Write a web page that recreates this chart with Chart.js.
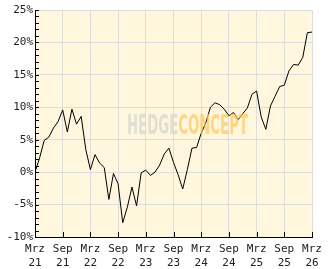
<!DOCTYPE html>
<html>
<head>
<meta charset="utf-8">
<script src="https://cdn.jsdelivr.net/npm/chart.js@4"></script>
<style>
  html, body { margin: 0; padding: 0; background: #fff; }
</style>
</head>
<body>
<canvas id="chart" width="332" height="269"></canvas>
<script>
// x tick labels, one every 6 months (Mrz 21 .. Mrz 26)
const tickLabels = [
  ['Mrz', '21'], ['Sep', '21'], ['Mrz', '22'], ['Sep', '22'], ['Mrz', '23'], ['Sep', '23'],
  ['Mrz', '24'], ['Sep', '24'], ['Mrz', '25'], ['Sep', '25'], ['Mrz', '26']
];

// monthly performance in % (month 0 = Mrz 21)
const values = [
  0, 2.2, 4.9, 5.4, 6.8, 7.8, 9.6, 6.2, 9.7, 7.4, 8.6, 3.5,
  0.4, 2.7, 1.4, 0.7, -4.2, -0.2, -1.8, -7.8, -5.4, -2.3, -5.2, -0.1,
  0.3, -0.5, 0, 1.1, 2.8, 3.7, 1.5, -0.4, -2.6, 0.4, 3.7, 3.8,
  6.0, 7.6, 10.0, 10.7, 10.4, 9.7, 8.7, 9.2, 8.1, 9.0, 9.9, 12.0,
  12.5, 8.5, 6.6, 10.2, 11.7, 13.2, 13.4, 15.6, 16.6, 16.5, 17.7, 21.5,
  21.6
];

const font = { family: '"DejaVu Sans Mono", monospace', size: 11, lineHeight: 1.2 };

// cream plot background
const bgPlugin = {
  id: 'bg',
  beforeDraw(chart) {
    const { ctx, chartArea: a } = chart;
    ctx.save();
    ctx.fillStyle = '#fff6de';
    ctx.fillRect(a.left, a.top, a.right - a.left, a.bottom - a.top);
    ctx.restore();
  }
};

// watermark over the line
const watermark = {
  id: 'watermark',
  afterDatasetsDraw(chart) {
    const { ctx } = chart;
    ctx.save();
    ctx.font = 'bold 27px "DejaVu Sans Condensed", "DejaVu Sans"';
    ctx.textBaseline = 'alphabetic';
    const w1 = ctx.measureText('HEDGE').width;
    const w2 = ctx.measureText('CONCEPT').width;
    const sx = 121 / (w1 + w2);
    ctx.translate(127, 134);
    ctx.scale(sx, 1);
    ctx.fillStyle = 'rgba(215, 215, 210, 0.75)';
    ctx.fillText('HEDGE', 0, 0);
    ctx.fillStyle = 'rgba(255, 200, 90, 0.7)';
    ctx.fillText('CONCEPT', w1, 0);
    ctx.restore();
  }
};

// short tick marks drawn inside the plot
const innerTicks = {
  id: 'innerTicks',
  afterDraw(chart) {
    const { ctx, chartArea: a, scales } = chart;
    ctx.save();
    ctx.strokeStyle = '#000';
    ctx.lineWidth = 1;
    ctx.beginPath();
    scales.y.ticks.forEach(t => {
      const y = Math.round(scales.y.getPixelForValue(t.value)) + 0.5;
      ctx.moveTo(a.left, y);
      ctx.lineTo(a.left + 4, y);
    });
    scales.x.ticks.forEach(t => {
      const x = Math.round(scales.x.getPixelForValue(t.value)) + 0.5;
      ctx.moveTo(x, a.bottom);
      ctx.lineTo(x, a.bottom - 5);
    });
    ctx.stroke();
    ctx.restore();
  }
};

new Chart(document.getElementById('chart'), {
  type: 'line',
  data: {
    datasets: [{
      data: values.map((v, i) => ({ x: i, y: v })),
      borderColor: '#000',
      borderWidth: 1,
      pointRadius: 0,
      tension: 0,
      fill: false
    }]
  },
  options: {
    responsive: false,
    animation: false,
    layout: { padding: { top: 10, right: 20, left: 0, bottom: 0 } },
    plugins: { legend: { display: false }, tooltip: { enabled: false } },
    scales: {
      x: {
        type: 'linear',
        min: 0,
        max: 60,
        afterFit(s) { s.height = 32; },
        border: { color: '#000', width: 1 },
        grid: { color: '#ddd', drawTicks: false },
        ticks: {
          stepSize: 6,
          autoSkip: false,
          maxRotation: 0,
          padding: 6,
          color: '#222',
          font,
          callback: v => tickLabels[v / 6]
        }
      },
      y: {
        min: -10,
        max: 25,
        afterFit(s) { s.width = 35; },
        border: { color: '#000', width: 1 },
        grid: {
          color: c => (c.tick && c.tick.value % 5 === 0) ? '#ddd' : 'rgba(0,0,0,0)',
          drawTicks: false
        },
        ticks: {
          stepSize: 1,
          autoSkip: false,
          padding: 2,
          color: '#222',
          font,
          callback: v => v % 5 === 0 ? v + '%' : ''
        }
      }
    }
  },
  plugins: [bgPlugin, watermark, innerTicks]
});
</script>
</body>
</html>
